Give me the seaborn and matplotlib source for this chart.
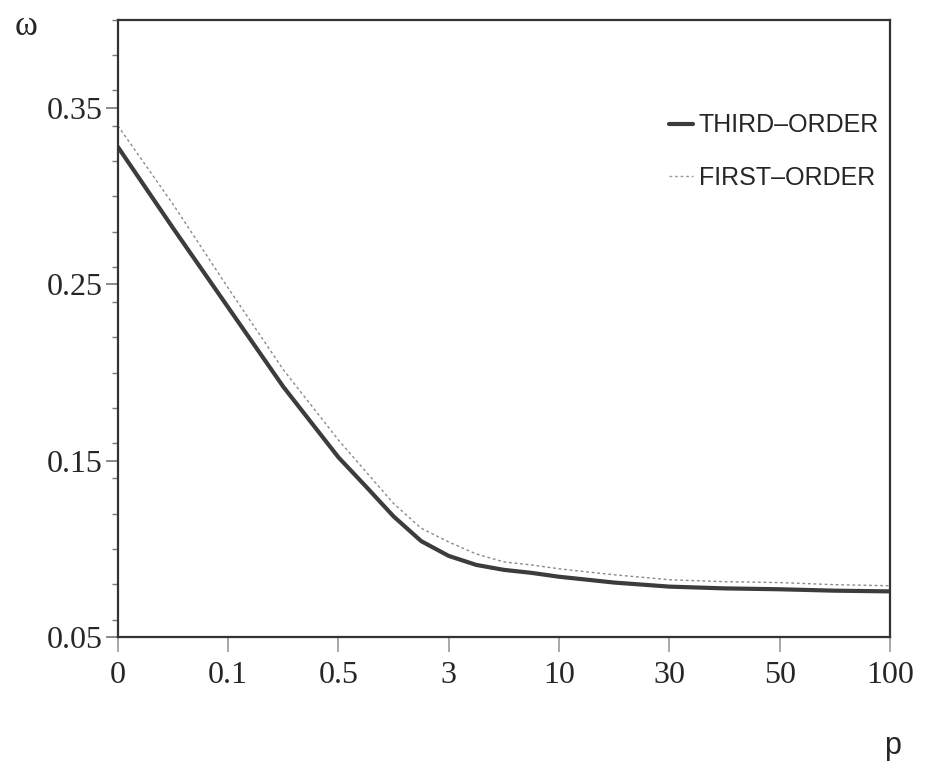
import matplotlib
matplotlib.use("Agg")
import matplotlib.pyplot as plt
import seaborn as sns
import pandas as pd
from matplotlib.ticker import MultipleLocator
from matplotlib.lines import Line2D

# x positions are evenly spaced categories
p_labels = ["0", "0.1", "0.5", "3", "10", "30", "50", "100"]
pos = [0, 0.5, 1, 1.5, 2, 2.25, 2.5, 2.75, 3, 3.25, 3.5, 3.75, 4,
       4.5, 5, 5.5, 6, 6.5, 7]
third_order = [0.328, 0.282, 0.237, 0.192, 0.152, 0.1354, 0.1185, 0.1045,
               0.0961, 0.091, 0.0882, 0.0865, 0.0843, 0.081, 0.0787, 0.0777,
               0.0772, 0.0764, 0.0760]
first_order = [0.340, 0.2955, 0.248, 0.2017, 0.1618, 0.1438, 0.1258, 0.1118,
               0.104, 0.0972, 0.0927, 0.091, 0.0888, 0.0854, 0.0826, 0.0815,
               0.081, 0.0798, 0.0792]


def make_plot():
    sns.set_style("white")
    plt.rcParams["font.family"] = ["Liberation Serif", "DejaVu Serif"]

    df = pd.DataFrame({"pos": pos * 2,
                       "omega": third_order + first_order,
                       "order": ["THIRD–ORDER"] * len(pos) + ["FIRST–ORDER"] * len(pos)})

    fig = plt.figure(figsize=(9.28, 7.65), dpi=100)
    ax = fig.add_axes([0.127, 0.167, 0.832, 0.807])

    sns.lineplot(data=df, x="pos", y="omega", hue="order", style="order",
                 palette=["#3c3c3c", "#8a8a8a"],
                 dashes=[(None, None), (2, 2)],
                 size="order", sizes=[3.0, 1.0], ax=ax, legend=False)

    ax.set_xlim(0, 7)
    ax.set_ylim(0.05, 0.40)
    ax.set_xticks(range(len(p_labels)))
    ax.set_xticklabels(p_labels)
    ax.set_yticks([0.05, 0.15, 0.25, 0.35])
    ax.set_yticklabels(["0.05", "0.15", "0.25", "0.35"])
    ax.yaxis.set_minor_locator(MultipleLocator(0.02))
    ax.set_xlabel("")
    ax.set_ylabel("")

    for s in ax.spines.values():
        s.set_color("#333333")
        s.set_linewidth(1.6)

    ax.tick_params(axis="x", which="major", direction="out", length=11,
                   width=1.2, color="#999999", labelsize=23, pad=6, bottom=True)
    ax.tick_params(axis="y", which="major", direction="out", length=9,
                   width=1.2, color="#777777", labelsize=23, pad=2, left=True)
    ax.tick_params(axis="y", which="minor", direction="out", length=4,
                   width=1.0, color="#777777", left=True)

    handles = [Line2D([], [], color="#3c3c3c", lw=3.0),
               Line2D([], [], color="#9a9a9a", lw=1.0, dashes=(2, 2))]
    ax.legend(handles, ["THIRD–ORDER", "FIRST–ORDER"], loc="upper right",
              bbox_to_anchor=(1.015, 0.885), frameon=False,
              handlelength=0.95, handletextpad=0.25, labelspacing=1.15,
              prop={"family": "Liberation Sans", "size": 18})

    fig.text(0.028, 0.965, "ω", fontsize=25, ha="center", va="center")
    fig.text(0.962, 0.025, "p", fontsize=22, ha="center", va="center",
             family="Liberation Sans")

    fig.savefig("out.png", dpi=100)


if __name__ == "__main__":
    make_plot()
